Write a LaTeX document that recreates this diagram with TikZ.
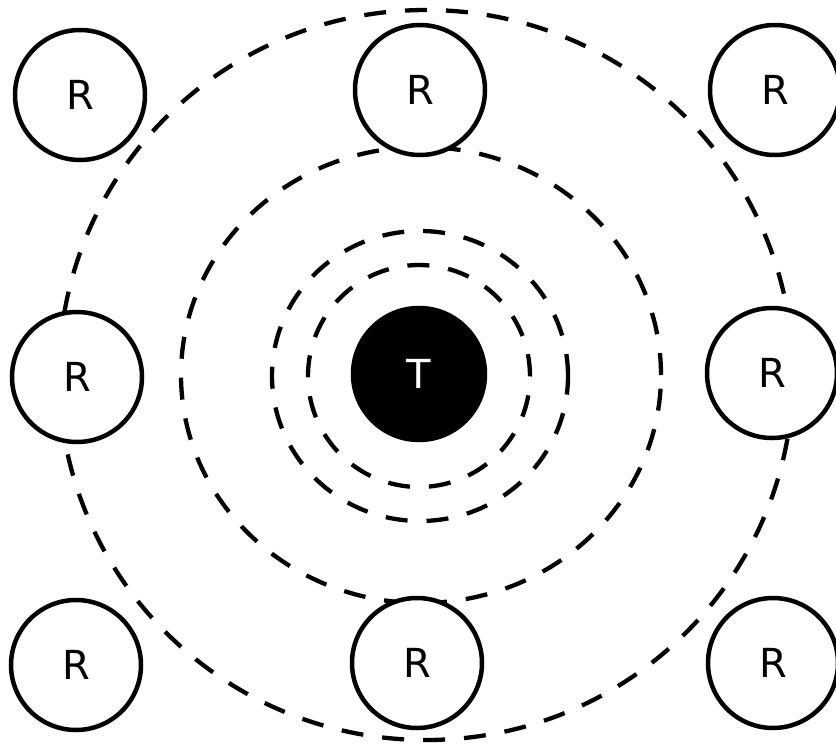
\documentclass[tikz,border=0pt]{standalone}
\usepackage{fontspec}
\setmainfont{DejaVu Sans}
\usetikzlibrary{backgrounds}
\begin{document}
\begin{tikzpicture}[x=1pt, y=-1pt, line width=4.3pt,
  every node/.style={circle, draw, line width=4.5pt, minimum size=130pt,
    inner sep=0pt, font=\fontsize{40}{48}\selectfont},
  rnode/.style={fill=white},
  tnode/.style={fill=black, text=white, minimum size=132pt},
  ring/.style={line width=4.3pt, dash pattern=on 22pt off 19pt}]
\useasboundingbox (0,0) rectangle (836,745);
\node[tnode] (T) at (419,374) {T};
\node[rnode] (r1) at (80,95) {R};
\node[rnode] (r2) at (420,90) {R};
\node[rnode] (r3) at (775,90) {R};
\node[rnode] (r4) at (77,377) {R};
\node[rnode] (r5) at (772,373) {R};
\node[rnode] (r6) at (76,665) {R};
\node[rnode] (r7) at (417,663) {R};
\node[rnode] (r8) at (773,663) {R};
\begin{scope}[on background layer]
  \draw[ring] ([shift={(0,2)}]T) circle [radius=111pt];
  \draw[ring] ([shift={(1,2)}]T) circle [x radius=148pt, y radius=145pt];
  \draw[ring] ([shift={(2,1)}]T) circle [x radius=240pt, y radius=228pt];
  \draw[ring] ([shift={(7,1)}]T) circle [x radius=367pt, y radius=365pt];
\end{scope}
\end{tikzpicture}
\end{document}
